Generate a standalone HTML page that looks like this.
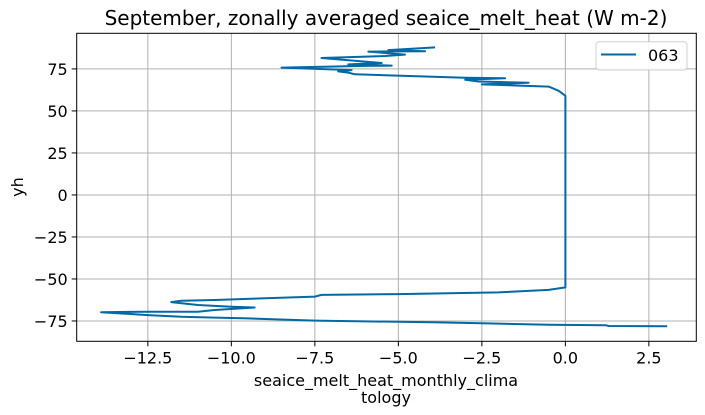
<!DOCTYPE html>
<html><head><meta charset="utf-8"><style>
body{margin:0;background:#fff;}
svg{display:block;font-family:"DejaVu Sans","Liberation Sans",sans-serif;}
</style></head><body>
<svg id="chart" width="705" height="415" viewBox="0 0 705 415" xmlns="http://www.w3.org/2000/svg">
<text x="386" y="25" font-size="20" text-anchor="middle" fill="#000">September, zonally averaged seaice_melt_heat (W m-2)</text>
<g id="grid"></g>
<g id="series"></g>
<rect x="76.7" y="33.3" width="619.6" height="308" fill="none" stroke="#000" stroke-width="1"/>
<g id="ticks"></g>
<text x="386" y="386" font-size="16" text-anchor="middle">seaice_melt_heat_monthly_clima</text>
<text x="386" y="403" font-size="16" text-anchor="middle">tology</text>
<text x="23" y="187" font-size="16" text-anchor="middle" transform="rotate(-90 23 187)">yh</text>
<g>
<rect x="596" y="41.7" width="91" height="28.3" rx="3" fill="#fff" stroke="#ccc" stroke-width="1" opacity="0.9"/>
<line x1="601" y1="54.5" x2="636" y2="54.5" stroke="#0369a5" stroke-width="2"/>
<text x="648" y="61" font-size="16">063</text>
</g>
</svg>
<script>
const xTicks=[-12.5,-10,-7.5,-5,-2.5,0,2.5];
const xTickLabels=["\u221212.5","\u221210.0","\u22127.5","\u22125.0","\u22122.5","0.0","2.5"];
const yTicks=[-75,-50,-25,0,25,50,75];
const yTickLabels=["\u221275","\u221250","\u221225","0","25","50","75"];
const seriesX=[3.05,1.3,1.2,-0.5,-2.5,-4.0,-7.5,-9.5,-10.5,-11.5,-12.5,-13.9,-12.5,-11.0,-10.5,-9.3,-10.0,-11.0,-11.8,-11.5,-10.5,-7.5,-7.3,-5,-2,-0.5,0,0,0,-0.2,-0.5,-2.5,-1.1,-2.6,-3,-1.8,-3,-6.3,-6.5,-6.8,-6.4,-8.5,-6.0,-5.2,-6.5,-5.5,-7.3,-5.4,-4.8,-5.9,-4.2,-5.3,-3.9];
const seriesY=[-78.2,-78.0,-77.5,-77.3,-76.3,-75.8,-74.8,-73.5,-73,-72.5,-71.5,-69.8,-69.5,-69.5,-68.5,-67.0,-66.5,-65.5,-63.8,-63,-62.5,-60.5,-59.5,-59,-58,-56.5,-55,55,59,62,64.5,65.8,66.8,67.5,68.5,69.5,69.8,71.8,72.8,73.5,74.3,75.8,76.8,77.0,77.7,78.5,81.5,82.7,83.5,85.3,85.5,86.2,87.8];
const L=76.7,R=696.3,T=33.3,B=341.3;
const xmin=-14.63,xmax=3.92,ymin=-87.1,ymax=96.2;
const sx=v=>L+(v-xmin)/(xmax-xmin)*(R-L);
const sy=v=>B-(v-ymin)/(ymax-ymin)*(B-T);
const NS="http://www.w3.org/2000/svg";
const grid=document.getElementById('grid'),ticks=document.getElementById('ticks'),series=document.getElementById('series');
function mk(tag,attrs,parent){const e=document.createElementNS(NS,tag);for(const k in attrs)e.setAttribute(k,attrs[k]);parent.appendChild(e);return e;}
xTicks.forEach((v,i)=>{const x=sx(v);
 const g=mk('line',{x1:x,x2:x,y1:T,y2:B,stroke:'#b0b0b0','stroke-width':1},grid);
 
 
 const t=mk('line',{x1:x,x2:x,y1:B,y2:B+5,stroke:'#000','stroke-width':1},ticks);
 
 
 const l=mk('text',{x:x,y:B+22,'font-size':16,'text-anchor':'middle'},ticks);l.textContent=xTickLabels[i];
 
 
});
yTicks.forEach((v,i)=>{const y=sy(v);
 const g=mk('line',{x1:L,x2:R,y1:y,y2:y,stroke:'#b0b0b0','stroke-width':1},grid);
 
 
 const t=mk('line',{x1:L-5,x2:L,y1:y,y2:y,stroke:'#000','stroke-width':1},ticks);
 
 
 const l=mk('text',{x:L-9,y:y+6,'font-size':16,'text-anchor':'end'},ticks);l.textContent=yTickLabels[i];
 
 
});
const pts=seriesX.map((v,i)=>sx(v).toFixed(1)+','+sy(seriesY[i]).toFixed(1)).join(' ');
const pl=mk('polyline',{points:pts,fill:'none',stroke:'#0369a5','stroke-width':2,'stroke-linejoin':'round'},series);


</script>
</body></html>
